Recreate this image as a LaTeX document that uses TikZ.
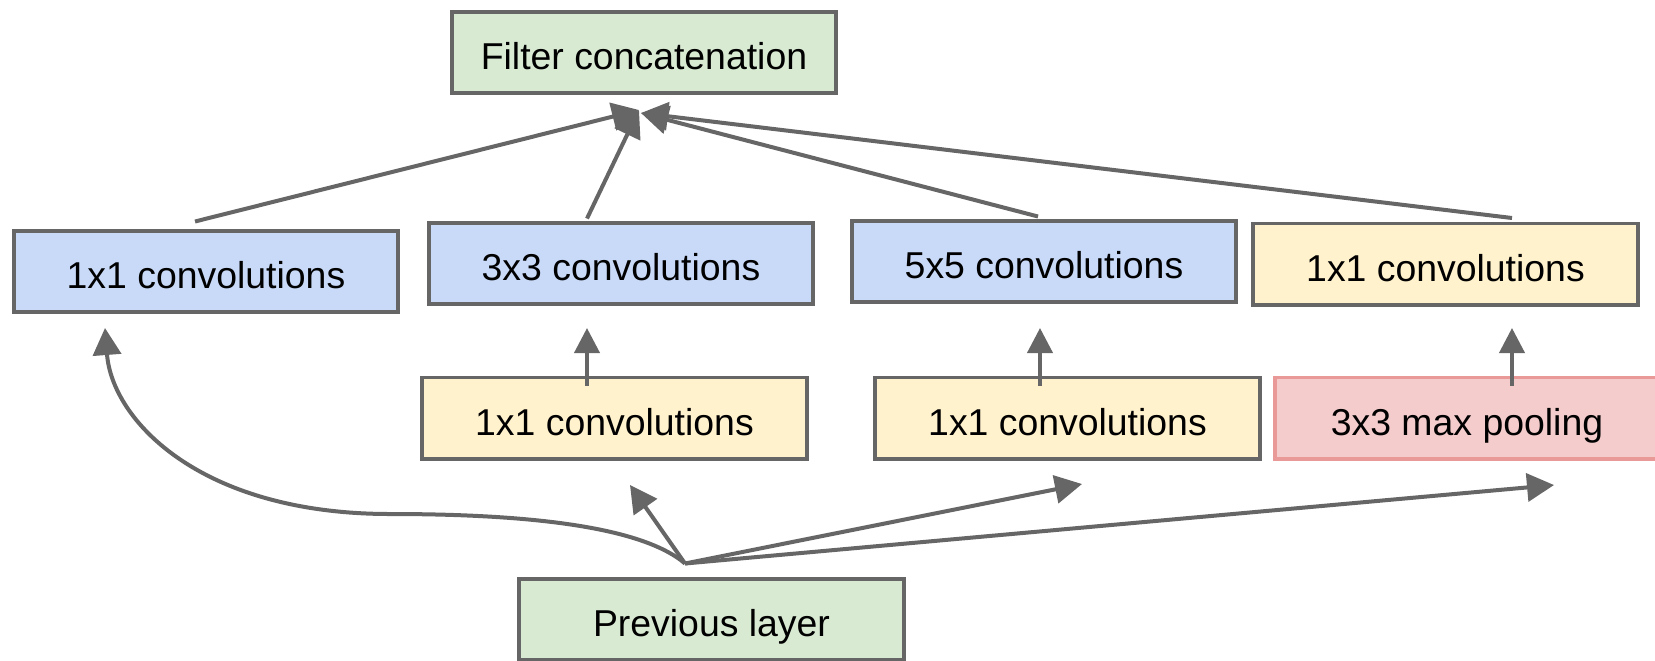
\documentclass[tikz,border=0pt]{standalone}
\usepackage{fontspec}
\setmainfont{Liberation Sans}
\usetikzlibrary{arrows.meta,calc}
\definecolor{edgegray}{HTML}{666666}
\definecolor{boxgreen}{HTML}{D9EAD3}
\definecolor{boxblue}{HTML}{C9DAF8}
\definecolor{boxyellow}{HTML}{FFF2CC}
\definecolor{boxred}{HTML}{F4CCCC}
\definecolor{edgered}{HTML}{EA9999}
\begin{document}
\begin{tikzpicture}[x=0.5pt,y=-0.5pt,
  blk/.style={draw=edgegray,line width=1.9pt,minimum width=192.3pt,
    minimum height=40.6pt,inner sep=0pt,
    font=\fontsize{18.7}{22}\selectfont,text height=17.3pt,text depth=0pt},
  greenblk/.style={blk,fill=boxgreen},
  blueblk/.style={blk,fill=boxblue},
  yellowblk/.style={blk,fill=boxyellow},
  redblk/.style={blk,fill=boxred,draw=edgered},
  arr/.style={draw=edgegray,line width=2pt,
    -{Triangle[length=13.5pt,width=14pt]}},
  uparr/.style={draw=edgegray,line width=2pt,
    -{Triangle[length=12.5pt,width=12.5pt]}}]
\useasboundingbox (0,0) rectangle (1655,660);

% blocks
\node[greenblk]  (concat) at (644,52.5)   {Filter concatenation};
\node[blueblk]   (c1)     at (206,271.5)  {1x1 convolutions};
\node[blueblk]   (c3)     at (621,263.5)  {3x3 convolutions};
\node[blueblk]   (c5)     at (1044,261.5) {5x5 convolutions};
\node[yellowblk] (p1)     at (1445.5,264) {1x1 convolutions};
\node[yellowblk] (r3)     at (614.5,418)  {1x1 convolutions};
\node[yellowblk] (r5)     at (1067.5,418) {1x1 convolutions};
\node[redblk]    (pool)   at (1467,418)   {3x3 max pooling};
\node[greenblk]  (prev)   at (711.5,619.5){Previous layer};

% free ends of the connectors
\coordinate (inL) at (639,110);
\coordinate (inR) at (641,113);
\coordinate (up3) at (587,328);
\coordinate (up5) at (1040,328);
\coordinate (upp) at (1512,328);
\coordinate (hub) at ($(prev.north)+(-26.5,-13.5)$);
\coordinate (toc1) at (105,328);
\coordinate (tor3) at (630,485);
\coordinate (tor5) at (1082,484);
\coordinate (topool) at (1554,485);

% branches into the concatenation
\draw[arr] ($(c1.north)+(-11,-7.5)$) -- (inL);
\draw[arr] ($(c3.north)+(-34,-2.5)$) -- (inL);
\draw[arr] ($(c5.north)+(-6,-2.5)$) -- (inR);
\draw[arr] ($(p1.north)+(66.5,-3.5)$) -- (inR);

% reductions into the wide convolutions
\draw[uparr] ($(r3.north)+(-27.5,10)$) -- (up3);
\draw[uparr] ($(r5.north)+(-27.5,10)$) -- (up5);
\draw[uparr] ($(pool.north)+(45,10)$) -- (upp);

% fan-out from the previous layer
\draw[arr] (hub) .. controls (640,525) and (520,514) .. (390,514)
                 .. controls (200,514) and (112,420) .. (toc1);
\draw[arr] (hub) -- (tor3);
\draw[arr] (hub) -- (tor5);
\draw[arr] (hub) -- (topool);
\end{tikzpicture}
\end{document}
